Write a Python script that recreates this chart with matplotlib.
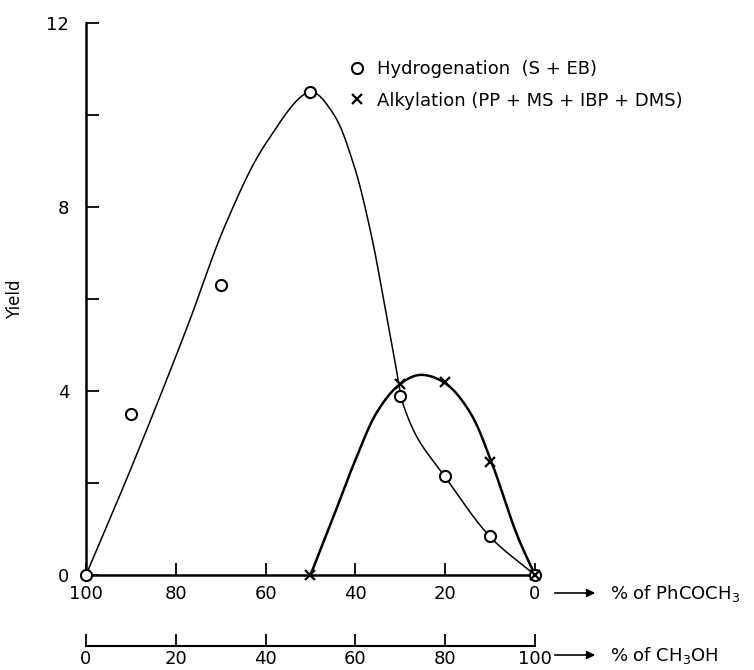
import numpy as np
import matplotlib.pyplot as plt

# measured points (x = % of PhCOCH3)
ph_pct_h = [100, 90, 70, 50, 30, 20, 10, 0]
yield_h = [0, 3.5, 6.3, 10.5, 3.9, 2.15, 0.85, 0]
ph_pct_a = [50, 30, 20, 10, 0]
yield_a = [0, 4.15, 4.2, 2.45, 0]

# hand-drawn trend curves, knots
curve_h_x = [100, 89.5, 77.7, 68.8, 59.9, 50, 45, 40.5, 36.7, 33.8, 30.4, 29.8, 26.3, 20, 10, 0]
curve_h_y = [0, 2.43, 5.33, 7.65, 9.39, 10.5, 10.04, 8.96, 7.5, 6.04, 4.2, 3.85, 3.0, 2.13, 0.83, 0]
curve_a_x = [50, 45, 40, 35.2, 30.3, 25.6, 20, 14.5, 9.6, 4, 0]
curve_a_y = [0, 1.24, 2.5, 3.54, 4.13, 4.35, 4.17, 3.54, 2.43, 0.87, 0]

y_ticks = [0, 2, 4, 6, 8, 10, 12]
y_labels = ["0", "", "4", "", "8", "", "12"]
x_ticks = [100, 80, 60, 40, 20, 0]
meoh_ticks = [0, 20, 40, 60, 80, 100]

YSCALE = 10.24  # y units -> x units on paper, so the spline sees true shape


def smooth(xs, ys, n=30):
    # centripetal Catmull-Rom through the knots
    p = np.column_stack([xs, np.array(ys) * YSCALE]).astype(float)
    p = np.vstack([2 * p[0] - p[1], p, 2 * p[-1] - p[-2]])
    out = []
    for i in range(1, len(p) - 2):
        p0, p1, p2, p3 = p[i - 1], p[i], p[i + 1], p[i + 2]
        t0 = 0.0
        t1 = t0 + np.linalg.norm(p1 - p0) ** 0.5
        t2 = t1 + np.linalg.norm(p2 - p1) ** 0.5
        t3 = t2 + np.linalg.norm(p3 - p2) ** 0.5
        t = np.linspace(t1, t2, n, endpoint=False)[:, None]
        a1 = (t1 - t) / (t1 - t0) * p0 + (t - t0) / (t1 - t0) * p1
        a2 = (t2 - t) / (t2 - t1) * p1 + (t - t1) / (t2 - t1) * p2
        a3 = (t3 - t) / (t3 - t2) * p2 + (t - t2) / (t3 - t2) * p3
        b1 = (t2 - t) / (t2 - t0) * a1 + (t - t0) / (t2 - t0) * a2
        b2 = (t3 - t) / (t3 - t1) * a2 + (t - t1) / (t3 - t1) * a3
        out.append((t2 - t) / (t2 - t1) * b1 + (t - t1) / (t2 - t1) * b2)
    out.append(p[-2][None, :])
    out = np.vstack(out)
    return out[:, 0], out[:, 1] / YSCALE


plt.rcParams['font.family'] = ['DejaVu Sans']
fig = plt.figure(figsize=(7.54, 6.70), dpi=100)
ax = fig.add_axes([86 / 754, 95 / 670, 449 / 754, 552 / 670])

ax.plot(*smooth(curve_h_x, curve_h_y), color="black", lw=1.1, zorder=2)
ax.plot(*smooth(curve_a_x, curve_a_y), color="black", lw=1.8, zorder=2)

ax.plot(ph_pct_h, yield_h, "o", ms=8, mfc="white", mec="black", mew=1.5, zorder=3,
        label="Hydrogenation  (S + EB)", clip_on=False)
ax.plot(ph_pct_a, yield_a, "x", ms=7, color="black", mew=1.6, zorder=4,
        label="Alkylation (PP + MS + IBP + DMS)", clip_on=False)

ax.set_xlim(100, 0)
ax.set_ylim(0, 12)
ax.spines['top'].set_visible(False)
ax.spines['right'].set_visible(False)
ax.spines['left'].set_linewidth(1.8)
ax.spines['bottom'].set_linewidth(1.8)

ax.set_yticks(y_ticks)
ax.set_yticklabels(y_labels)
ax.set_xticks(x_ticks)
ax.tick_params(axis='both', direction='in', length=9, width=1.3, labelsize=13)
ax.tick_params(axis='y', pad=12)
ax.tick_params(axis='x', pad=7)
ax.set_ylabel("Yield", fontsize=12, labelpad=16)

# second scale: % of CH3OH
sec = ax.secondary_xaxis(-71 / 552, functions=(lambda v: 100 - v, lambda v: 100 - v))
sec.set_xticks(meoh_ticks)
sec.spines['bottom'].set_linewidth(1.5)
sec.tick_params(direction='in', length=9, width=1.3, labelsize=13, pad=3)

# arrows with the axis names
for ypx, name in [(593, "% of PhCOCH$_3$"), (655, "% of CH$_3$OH")]:
    ax.annotate("", xy=(598 / 754, 1 - ypx / 670), xytext=(552 / 754, 1 - ypx / 670),
                xycoords='figure fraction',
                arrowprops=dict(arrowstyle="-|>", color="black", lw=1.2, mutation_scale=12))
    fig.text(610 / 754, 1 - ypx / 670, name, fontsize=13, va="center")

ax.legend(loc="upper left", bbox_to_anchor=(341 / 754, 1 - 51 / 670),
          bbox_transform=fig.transFigure, frameon=False, fontsize=13,
          handlelength=0.8, handletextpad=0.7, labelspacing=0.75, borderpad=0)

fig.savefig("out.png", dpi=100)
